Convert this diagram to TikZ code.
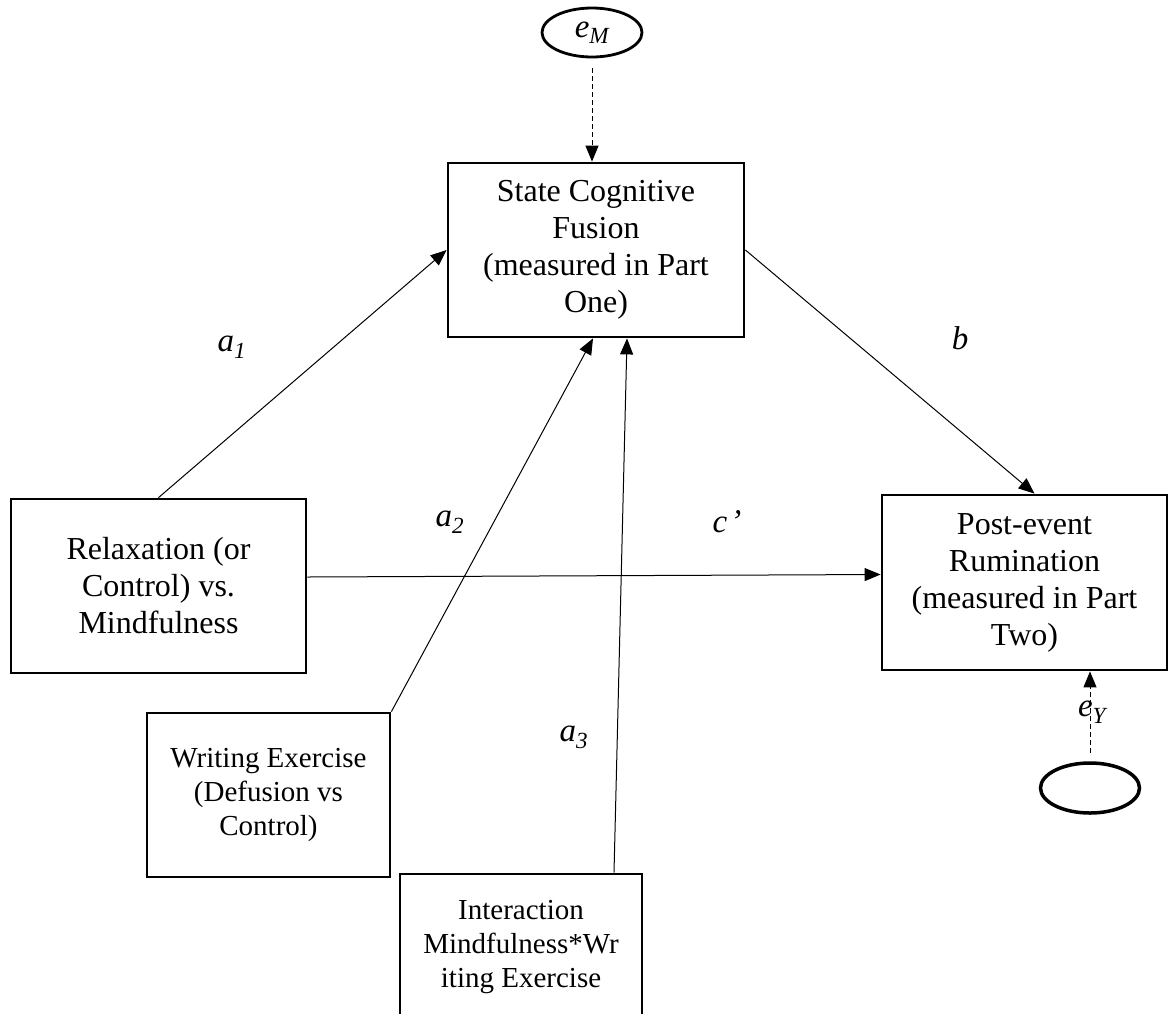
\documentclass[tikz,border=0pt]{standalone}
\usepackage{fontspec}
\setmainfont{Liberation Serif}
\usetikzlibrary{arrows.meta,shapes.geometric,calc}
\tikzset{%
  >={Triangle[width=13pt,length=16pt]},
  % Specifications for style of nodes:
         varbox/.style = {rectangle, draw=black, line width=2.8pt,
                          align=center, font=\fontsize{32}{37}\selectfont},
       smallbox/.style = {varbox, font=\fontsize{29}{34}\selectfont},
        errnode/.style = {ellipse, draw=black, line width=2.8pt, inner sep=0pt,
                          minimum width=100pt, minimum height=49pt},
          coeff/.style = {font=\fontsize{33}{40}\selectfont\itshape},
  % Specifications for style of lines:
         effect/.style = {->, line width=1pt},
      erreffect/.style = {->, line width=1pt, dash pattern=on 5pt off 3pt},
}
\begin{document}
\begin{tikzpicture}[x=1pt, y=-1pt]
  \clip (0,0) rectangle (1170,1013);
  % Specification of nodes (position, etc.)
  \node (state) [varbox, minimum width=296pt, minimum height=174pt] at (596,250)
     {State Cognitive\\Fusion\\(measured in Part\\One)};
  \node (relax) [varbox, minimum width=295pt, minimum height=174pt] at (158.5,586)
     {Relaxation (or\\Control) vs.\\Mindfulness};
  \node (post) [varbox, minimum width=285pt, minimum height=175pt] at (1024.5,582.5)
     {Post-event\\Rumination\\(measured in Part\\Two)};
  \node (writing) [smallbox, minimum width=243pt, minimum height=164pt] at (268.5,795)
     {Writing Exercise\\(Defusion vs\\Control)};
  \node (inter) [smallbox, minimum width=242pt, minimum height=146pt] at (521,947)
     {Interaction\\Mindfulness*Wr\\iting Exercise};

  \node (eM) [errnode, coeff] at (592,32.5) {e\textsubscript{M}};
  \node (eY) [errnode, line width=3.5pt, minimum width=99pt, minimum height=50pt] at (1090,788) {};

  % coefficient labels
  \node (lab1) [coeff] at (232,347) {a\textsubscript{1}};
  \node (lab2) [coeff] at (450,522) {a\textsubscript{2}};
  \node (lab3) [coeff] at (574,737) {a\textsubscript{3}};
  \node (labb) [coeff] at (960,338) {b};
  \node (labc) [coeff] at (727,522) {c\hspace{0.1em}’};

  % Specification of lines between nodes specified above
  \draw[effect] (relax.north) -- (state.west);
  \draw[effect] (writing.north east) -- ([xshift=-3pt]state.south);
  \draw[effect] ([xshift=93pt]inter.north) -- ([xshift=31pt]state.south);
  \draw[effect] (state.east) -- ([xshift=10pt]post.north);
  \draw[effect] ([yshift=9pt]relax.east) -- ([yshift=8pt]post.west);

  \draw[erreffect] ([yshift=-10pt]eM.south) -- (eM.south |- state.north);
  \draw[erreffect] ([yshift=8pt]eY.north) -- (eY.north |- post.south)
     node (eYlab) [coeff, midway, xshift=2pt] {e\textsubscript{Y}};
\end{tikzpicture}
\end{document}
